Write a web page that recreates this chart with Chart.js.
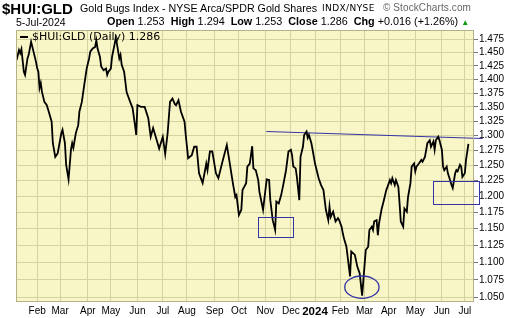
<!DOCTYPE html>
<html>
<head>
<meta charset="utf-8">
<script src="https://cdn.jsdelivr.net/npm/chart.js@4.4.1/dist/chart.umd.min.js"></script>
<style>
  html, body { margin: 0; padding: 0; background: #fff; }
  #wrap { position: relative; width: 520px; height: 318px; overflow: hidden;
          font-family: "Liberation Sans", Arial, sans-serif; color: #000; }
  #chart { position: absolute; left: 0; top: 0; }
  .hd { position: absolute; white-space: nowrap; line-height: 1; }
  .hd b { font-weight: bold; }
  .key { display: inline-block; width: 8px; height: 2px; background: #000; vertical-align: middle; margin-right: 4px; }
</style>
</head>
<body>
<div id="wrap">
  <canvas id="chart" width="520" height="318"></canvas>
  <div class="hd" style="left:2px; top:1px; font-size:15px; font-weight:bold;">$HUI:GLD</div>
  <div class="hd" style="left:80px; top:3px; font-size:10.7px;">Gold Bugs Index - NYSE Arca/SPDR Gold Shares</div>
  <div class="hd" style="left:322px; top:4px; font-size:9px; font-family:'DejaVu Sans'; letter-spacing:0.4px;">INDX/NYSE</div>
  <div class="hd" style="left:383px; top:3px; font-size:10px; color:#666; letter-spacing:0.1px;">&copy; StockCharts.com</div>
  <div class="hd" style="left:16px; top:17px; font-size:10.5px;">5-Jul-2024</div>
  <div class="hd" style="left:107px; top:16px; font-size:10.8px;"><b>Open</b> 1.253 &nbsp;<b>High</b> 1.294 &nbsp;<b>Low</b> 1.253 &nbsp;<b>Close</b> 1.286 &nbsp;<b>Chg</b> +0.016 (+1.26%) <span style="color:#0a9a0a; font-size:8px;">&#9650;</span></div>
  <div class="hd" style="left:20px; top:31px; font-size:11px; font-family:'DejaVu Sans', Verdana, sans-serif;"><span class="key"></span>$HUI:GLD (Daily) 1.286</div>
</div>
<script>
// trading-day index (0 = first bar, early Jan 2023) and HUI:GLD ratio
const dayIndex = [
  0, 2, 3, 4, 6, 7, 9, 10, 12, 14, 16, 17, 18, 19, 20, 21, 23, 25, 27, 29,
  30, 32, 34, 37, 38, 40, 41, 43, 45, 46, 47, 49, 51, 52, 54, 56, 58, 60, 61, 63,
  65, 66, 67, 69, 70, 72, 74, 75, 76, 78, 79, 81, 82, 83, 85, 86, 87, 89, 90, 91,
  92, 94, 96, 98, 99, 100, 103, 106, 109, 111, 113, 116, 118, 121, 123, 125, 127, 129, 131, 132,
  134, 136, 139, 140, 142, 145, 147, 149, 151, 154, 157, 158, 160, 162, 165, 167, 170, 174, 176, 179,
  181, 182, 184, 186, 187, 190, 191, 193, 195, 196, 198, 200, 201, 204, 207, 209, 210, 212, 214, 215,
  217, 219, 221, 223, 225, 227, 228, 229, 231, 232, 234, 235, 237, 238, 240, 241, 242, 244, 245, 247,
  249, 250, 252, 254, 255, 256, 258, 259, 260, 262, 264, 266, 267, 269, 270, 271, 273, 276, 277, 280,
  282, 284, 286, 289, 291, 292, 294, 295, 296, 298, 299, 300, 302, 304, 306, 307, 309, 310, 311, 313,
  314, 316, 317, 318, 320, 321, 323, 324, 326, 327, 329, 330, 331, 333, 335, 336, 338, 340, 342, 343,
  345, 346, 347, 349, 350, 352, 353, 354, 356, 357, 358, 360, 361, 363, 364, 365, 367, 368, 369, 371,
  372, 374
];
const ratio = [
  1.436, 1.455, 1.449, 1.457, 1.414, 1.408, 1.439, 1.446, 1.471, 1.452, 1.433, 1.421, 1.414, 1.384, 1.393, 1.377, 1.359, 1.353, 1.339, 1.324,
  1.287, 1.264, 1.270, 1.304, 1.310, 1.287, 1.251, 1.227, 1.276, 1.287, 1.279, 1.304, 1.318, 1.342, 1.359, 1.390, 1.420, 1.439, 1.452, 1.458,
  1.461, 1.474, 1.458, 1.442, 1.424, 1.417, 1.420, 1.408, 1.414, 1.420, 1.442, 1.465, 1.478, 1.468, 1.439, 1.446, 1.427, 1.414, 1.396, 1.377,
  1.371, 1.359, 1.348, 1.318, 1.301, 1.353, 1.350, 1.350, 1.330, 1.298, 1.313, 1.292, 1.278, 1.298, 1.269, 1.304, 1.359, 1.365, 1.355, 1.353,
  1.362, 1.342, 1.324, 1.301, 1.262, 1.267, 1.281, 1.281, 1.237, 1.221, 1.253, 1.242, 1.273, 1.273, 1.237, 1.229, 1.253, 1.284, 1.259, 1.221,
  1.199, 1.202, 1.171, 1.179, 1.210, 1.221, 1.248, 1.253, 1.282, 1.245, 1.242, 1.226, 1.207, 1.179, 1.227, 1.226, 1.194, 1.163, 1.148, 1.192,
  1.189, 1.202, 1.221, 1.242, 1.273, 1.276, 1.267, 1.248, 1.245, 1.231, 1.194, 1.264, 1.281, 1.301, 1.307, 1.296, 1.301, 1.287, 1.276, 1.253,
  1.237, 1.229, 1.218, 1.210, 1.194, 1.179, 1.163, 1.184, 1.168, 1.176, 1.161, 1.166, 1.163, 1.153, 1.143, 1.135, 1.123, 1.080, 1.116, 1.111,
  1.094, 1.084, 1.053, 1.118, 1.123, 1.148, 1.153, 1.148, 1.161, 1.163, 1.140, 1.158, 1.179, 1.194, 1.210, 1.215, 1.226, 1.221, 1.229, 1.218,
  1.226, 1.215, 1.189, 1.161, 1.153, 1.181, 1.176, 1.199, 1.221, 1.248, 1.253, 1.240, 1.248, 1.253, 1.259, 1.256, 1.264, 1.287, 1.292, 1.281,
  1.290, 1.276, 1.292, 1.298, 1.292, 1.276, 1.248, 1.242, 1.248, 1.237, 1.231, 1.218, 1.213, 1.237, 1.242, 1.240, 1.251, 1.248, 1.231, 1.237,
  1.259, 1.286
];

// month gridlines (first trading day of each month) and their labels
const monthStarts = [17, 36, 59, 78, 100, 121, 141, 164, 184, 206, 227, 247, 268, 288, 308, 330, 352, 371];
const monthLabels = ['Feb', 'Mar', 'Apr', 'May', 'Jun', 'Jul', 'Aug', 'Sep', 'Oct', 'Nov', 'Dec', '2024', 'Feb', 'Mar', 'Apr', 'May', 'Jun', 'Jul'];
const yTicks = [1.050, 1.075, 1.100, 1.125, 1.150, 1.175, 1.200, 1.225, 1.250, 1.275, 1.300, 1.325, 1.350, 1.375, 1.400, 1.425, 1.450, 1.475];

// hand-drawn annotations, in data units
const trendLine = [[206.7, 1.307], [385.8, 1.295]];
const boxes = [
  [199.8, 228.7, 1.1369, 1.1683],
  [344.6, 382.7, 1.1874, 1.2245]
];
const lowCircle = [285.8, 1.0646, 14.2, 1.0805, 1.0492]; // x, y, x radius (days), top, bottom

const plotBg = '#f8f5c6';
const gridColor = '#d6d3a2';
const frameColor = '#b3b08a';
const markColor = '#3434a6';
const axisFont = { family: "'Liberation Sans', Arial, sans-serif", size: 10 };

const plotDecor = {
  id: 'plotDecor',
  beforeDraw(chart) {
    const { ctx, chartArea: a } = chart;
    ctx.save();
    ctx.fillStyle = plotBg;
    ctx.fillRect(a.left, a.top, a.width, a.height);
    ctx.restore();
  },
  afterDraw(chart) {
    const { ctx, chartArea: a } = chart;
    const xs = chart.scales.x, ys = chart.scales.y;
    ctx.save();
    ctx.strokeStyle = frameColor;
    ctx.lineWidth = 1;
    ctx.strokeRect(Math.round(a.left) + 0.5, Math.round(a.top) + 0.5, Math.round(a.width) - 1, Math.round(a.height) - 1);

    // boxes
    ctx.strokeStyle = markColor;
    ctx.lineWidth = 1;
    boxes.forEach(function(b) {
      const x1 = Math.round(xs.getPixelForValue(b[0])) + 0.5;
      const x2 = Math.round(xs.getPixelForValue(b[1])) + 0.5;
      const y1 = Math.round(ys.getPixelForValue(b[3])) + 0.5;
      const y2 = Math.round(ys.getPixelForValue(b[2])) + 0.5;
      ctx.strokeRect(x1, y1, x2 - x1, y2 - y1);
    });

    // ellipse round the March low
    const cx = xs.getPixelForValue(lowCircle[0]);
    const rx = xs.getPixelForValue(lowCircle[0] + lowCircle[2]) - cx;
    const top = ys.getPixelForValue(lowCircle[3]);
    const bot = ys.getPixelForValue(lowCircle[4]);
    ctx.lineWidth = 1.3;
    ctx.beginPath();
    ctx.ellipse(cx, (top + bot) / 2, rx, (bot - top) / 2, 0, 0, Math.PI * 2);
    ctx.stroke();
    ctx.restore();
  }
};

const ctx = document.getElementById('chart').getContext('2d');
new Chart(ctx, {
  type: 'line',
  data: {
    datasets: [
      {
        label: '$HUI:GLD (Daily) 1.286',
        data: dayIndex.map(function(d, k) { return { x: d, y: ratio[k] }; }),
        borderColor: '#000',
        backgroundColor: '#000',
        borderWidth: 1.8,
        pointRadius: 0,
        tension: 0
      },
      {
        label: 'trend',
        data: trendLine.map(function(p) { return { x: p[0], y: p[1] }; }),
        borderColor: markColor,
        borderWidth: 1.2,
        pointRadius: 0,
        clip: false
      }
    ]
  },
  options: {
    responsive: false,
    animation: false,
    events: [],
    layout: { padding: { left: 16, top: 30, right: 0, bottom: 0 } },
    plugins: {
      tooltip: { enabled: false },
      legend: { display: false }
    },
    scales: {
      x: {
        type: 'linear',
        min: -0.5,
        max: 378.6,
        afterBuildTicks: function(s) { s.ticks = monthStarts.map(function(v) { return { value: v }; }); },
        afterFit: function(s) { s.height = 16; },
        ticks: {
          autoSkip: false,
          maxRotation: 0,
          padding: 3,
          color: '#000',
          callback: function(v, k) { return monthLabels[k]; },
          font: function(c) {
            const bold = c.tick && c.tick.label === '2024';
            return { family: axisFont.family, size: bold ? 11.5 : 10, weight: bold ? 'bold' : 'normal' };
          }
        },
        grid: { color: gridColor, drawTicks: false },
        border: { display: false }
      },
      y: {
        type: 'logarithmic',
        position: 'right',
        min: 1.0441,
        max: 1.494,
        afterBuildTicks: function(s) { s.ticks = yTicks.map(function(v) { return { value: v }; }); },
        afterFit: function(s) { s.width = 46; },
        ticks: {
          padding: 1,
          color: '#000',
          font: axisFont,
          callback: function(v) { return Number(v).toFixed(3); }
        },
        grid: { color: gridColor, tickColor: '#777', tickLength: 4 },
        border: { display: false }
      }
    }
  },
  plugins: [plotDecor]
});
</script>
</body>
</html>
